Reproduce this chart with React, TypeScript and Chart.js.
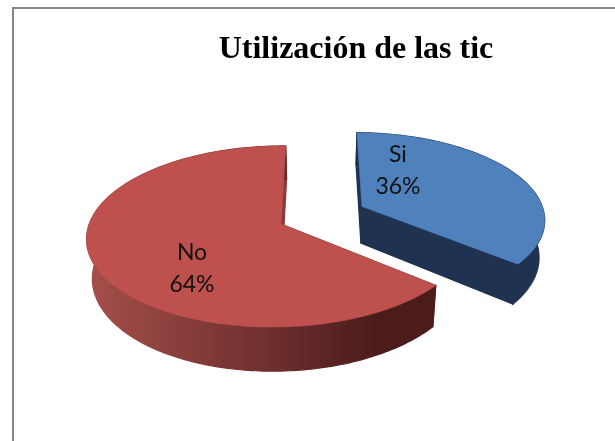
import React, { useEffect, useRef } from "react";
import { Chart, registerables } from "chart.js";

Chart.register(...registerables);

const categories = ["Si", "No"];
const values = [36, 64];
const percentLabels = ["36%", "64%"];
const topColors = ["#4F81BD", "#BE504D"];
const wallColors: string[][] = [
  ["#1F3350", "#1F3350"],
  ["#A64F4B", "#4C1C1B"],
];
const sideColors = ["#1F3350", "#8A3C39"];
const explode = [91, 0];
const labelOffsets = [
  [36, -36],
  [-89, 45],
];

const CX = 281;
const CY = 224;
const VX = 320;
const P = 0.138;
const Q = 0.012;
const K = 0.47;
const DEPTH = 38;
const LOWER = 0.975;

function project(x: number, y: number, R: number, lower: boolean) {
  const w = 1 - (P * y) / R + (Q * x) / R;
  const f = lower ? LOWER : 1;
  return {
    x: VX + ((CX + x - VX) / w) * f,
    y: CY + (K * y) / w + (lower ? DEPTH / w : 0),
  };
}

const pie3d = {
  id: "pie3d",
  beforeDatasetDraw(chart: any, args: any) {
    const ctx: CanvasRenderingContext2D = chart.ctx;
    const arcs = args.meta.data;
    arcs.forEach((arc: any, i: number) => {
      const R = arc.outerRadius;
      const a0 = arc.startAngle + Math.PI / 2;
      const a1 = arc.endAngle + Math.PI / 2;
      const mid = (a0 + a1) / 2;
      const ox = Math.sin(mid) * explode[i];
      const oy = -Math.cos(mid) * explode[i];
      const n = Math.ceil(((a1 - a0) * 180) / Math.PI);
      const at = (a: number, r: number, lower: boolean) =>
        project(ox + Math.sin(a) * r, oy - Math.cos(a) * r, R, lower);
      const rim = (lower: boolean) => {
        const pts = [];
        for (let s = 0; s <= n; s++) pts.push(at(a0 + ((a1 - a0) * s) / n, R, lower));
        return pts;
      };
      const top = rim(false);
      const bottom = rim(true);
      const apexT = at(0, 0, false);
      const apexB = at(0, 0, true);

      // radial cut faces
      ctx.fillStyle = sideColors[i];
      ctx.strokeStyle = sideColors[i];
      ctx.lineWidth = 1.2;
      [top[0], top[n]].forEach((p, j) => {
        const q = j === 0 ? bottom[0] : bottom[n];
        ctx.beginPath();
        ctx.moveTo(apexT.x, apexT.y);
        ctx.lineTo(p.x, p.y);
        ctx.lineTo(q.x, q.y);
        ctx.lineTo(apexB.x, apexB.y);
        ctx.closePath();
        ctx.fill();
        ctx.stroke();
      });

      // outer wall
      const xs = top.concat(bottom).map((p) => p.x);
      const g = ctx.createLinearGradient(Math.min(...xs), 0, Math.max(...xs) - 60, 0);
      g.addColorStop(0, wallColors[i][0]);
      g.addColorStop(1, wallColors[i][1]);
      ctx.fillStyle = g;
      ctx.strokeStyle = g;
      ctx.beginPath();
      top.forEach((p, s) => (s ? ctx.lineTo(p.x, p.y) : ctx.moveTo(p.x, p.y)));
      bottom.reverse().forEach((p) => ctx.lineTo(p.x, p.y));
      ctx.closePath();
      ctx.fill();
      ctx.stroke();

      // top face
      ctx.fillStyle = topColors[i];
      ctx.strokeStyle = topColors[i];
      ctx.lineWidth = 0.5;
      ctx.beginPath();
      ctx.moveTo(apexT.x, apexT.y);
      top.forEach((p) => ctx.lineTo(p.x, p.y));
      ctx.closePath();
      ctx.fill();
      ctx.stroke();
    });
    return false;
  },
  afterDatasetsDraw(chart: any) {
    const ctx: CanvasRenderingContext2D = chart.ctx;
    chart.getDatasetMeta(0).data.forEach((arc: any, i: number) => {
      const a0 = arc.startAngle + Math.PI / 2;
      const a1 = arc.endAngle + Math.PI / 2;
      const mid = (a0 + a1) / 2;
      const apex = project(
        Math.sin(mid) * explode[i],
        -Math.cos(mid) * explode[i],
        arc.outerRadius,
        false
      );
      const lx = apex.x + labelOffsets[i][0];
      const ly = apex.y + labelOffsets[i][1];
      ctx.save();
      ctx.fillStyle = "#111111";
      ctx.font = '23px Lato, "Open Sans", sans-serif';
      ctx.textAlign = "center";
      ctx.textBaseline = "middle";
      ctx.fillText(categories[i], lx, ly - 16);
      ctx.fillText(percentLabels[i], lx, ly + 16);
      ctx.restore();
    });
  },
};

export default function App() {
  const ref = useRef<HTMLCanvasElement | null>(null);
  useEffect(() => {
    const chart = new Chart(ref.current as HTMLCanvasElement, {
      type: "pie",
      data: {
        labels: categories,
        datasets: [{ data: values, backgroundColor: topColors, borderWidth: 0 }],
      },
      options: {
        responsive: false,
        animation: false,
        radius: 189,
        layout: { padding: { left: 97 } },
        plugins: {
          legend: { display: false },
          tooltip: { enabled: false },
          title: {
            display: true,
            text: "Utilización de las tic",
            color: "#000000",
            font: { family: '"Liberation Serif", serif', size: 32, weight: "bold" },
            padding: { top: 31, bottom: 10 },
          },
        },
      } as any,
      plugins: [pie3d],
    });
    return () => chart.destroy();
  }, []);
  return (
    <div
      style={{
        position: "fixed",
        left: 0,
        top: 0,
        width: 615,
        height: 441,
        overflow: "hidden",
        background: "#ffffff",
      }}
    >
      <div
        style={{
          position: "absolute",
          left: 12,
          top: 7,
          width: 800,
          height: 800,
          border: "2px solid #868686",
        }}
      />
      <canvas
        ref={ref}
        width={615}
        height={441}
        style={{ position: "absolute", left: 0, top: 0, display: "block" }}
      />
    </div>
  );
}
